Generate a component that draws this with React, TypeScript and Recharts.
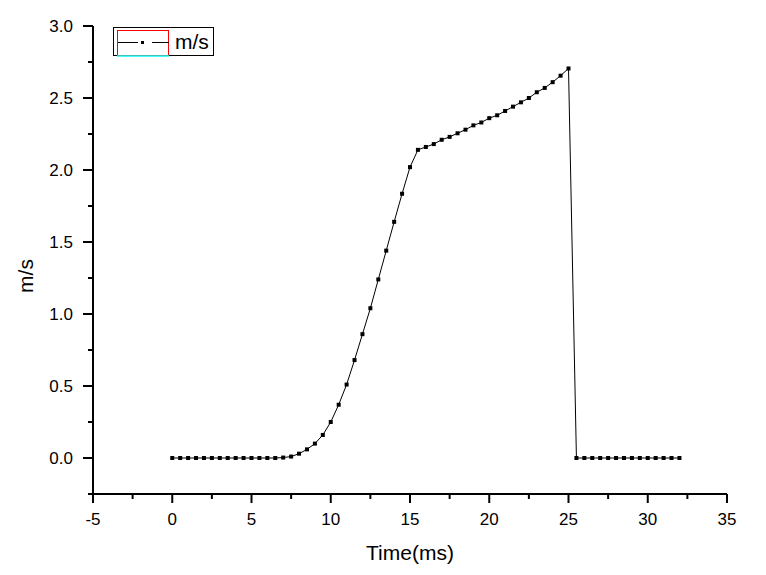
import { Label, Line, LineChart, XAxis, YAxis } from 'recharts';

const times = [
  0, 0.5, 1, 1.5, 2, 2.5, 3, 3.5, 4, 4.5, 5, 5.5, 6, 6.5, 7, 7.5, 8, 8.5, 9, 9.5,
  10, 10.5, 11, 11.5, 12, 12.5, 13, 13.5, 14, 14.5, 15, 15.5, 16, 16.5, 17, 17.5,
  18, 18.5, 19, 19.5, 20, 20.5, 21, 21.5, 22, 22.5, 23, 23.5, 24, 24.5, 25,
  25.5, 26, 26.5, 27, 27.5, 28, 28.5, 29, 29.5, 30, 30.5, 31, 31.5, 32,
];

const speeds = [
  0, 0, 0, 0, 0, 0, 0, 0, 0, 0, 0, 0, 0, 0, 0.003, 0.01, 0.03, 0.06, 0.1, 0.16,
  0.25, 0.37, 0.51, 0.68, 0.86, 1.04, 1.24, 1.44, 1.64, 1.835, 2.02, 2.14, 2.16, 2.18, 2.21, 2.23,
  2.255, 2.28, 2.31, 2.33, 2.36, 2.38, 2.41, 2.44, 2.47, 2.5, 2.54, 2.57, 2.61, 2.655, 2.705,
  0, 0, 0, 0, 0, 0, 0, 0, 0, 0, 0, 0, 0, 0,
];

const xTicks = [-5, -2.5, 0, 2.5, 5, 7.5, 10, 12.5, 15, 17.5, 20, 22.5, 25, 27.5, 30, 32.5, 35];
const yTicks = [-0.25, 0, 0.25, 0.5, 0.75, 1, 1.25, 1.5, 1.75, 2, 2.25, 2.5, 2.75, 3];

const data = times.map((t, i) => ({ t, v: speeds[i] }));

const FONT = '"Liberation Sans", Arial, sans-serif';

const XTick = ({ x, y, payload }: any) => {
  const major = payload.value % 5 === 0;
  return (
    <g>
      <line x1={x} y1={y} x2={x} y2={y + (major ? 9 : 5)} stroke="#000" strokeWidth={2} />
      {major && (
        <text x={x} y={y + 31} textAnchor="middle" fontSize={17} fontFamily={FONT} fill="#000">
          {payload.value}
        </text>
      )}
    </g>
  );
};

const YTick = ({ x, y, payload }: any) => {
  const major = Math.abs(payload.value * 2 - Math.round(payload.value * 2)) < 1e-9;
  return (
    <g>
      <line x1={x} y1={y} x2={x - (major ? 10 : 5)} y2={y} stroke="#000" strokeWidth={2} />
      {major && (
        <text x={x - 20} y={y} dy="0.35em" textAnchor="end" fontSize={17} fontFamily={FONT} fill="#000">
          {payload.value.toFixed(1)}
        </text>
      )}
    </g>
  );
};

// legend drawn by hand, the selection outline (red/cyan) is part of the look
const LegendBox = () => (
  <svg width={102} height={31} style={{ display: 'block' }}>
    <rect x={0.5} y={0.5} width={100} height={28} fill="#fff" stroke="#000" />
    <rect x={4.5} y={3.5} width={51} height={25} fill="none" stroke="#f00" />
    <line x1={4} y1={29} x2={56} y2={29} stroke="#0ff" strokeWidth={1.5} />
    <line x1={5} y1={15.5} x2={25} y2={15.5} stroke="#000" />
    <rect x={28} y={14} width={3} height={3} fill="#000" />
    <line x1={39} y1={15.5} x2={56} y2={15.5} stroke="#000" />
    <text x={62} y={22} fontSize={21} fontFamily={FONT} fill="#000">
      m/s
    </text>
  </svg>
);

const Dot = ({ cx, cy }: any) => <rect x={cx - 2} y={cy - 2} width={4} height={4} fill="#000" />;

export default function App() {
  return (
    <div style={{ position: 'absolute', left: 0, top: 0, background: '#fff' }}>
      <LineChart width={766} height={575} data={data} margin={{ top: 26, right: 39, bottom: 0, left: 0 }}>
        <XAxis
          dataKey="t"
          type="number"
          domain={[-5, 35]}
          ticks={xTicks}
          interval={0}
          height={81}
          tickSize={0}
          tickMargin={0}
          tickLine={false}
          tick={<XTick />}
          axisLine={{ stroke: '#000', strokeWidth: 2 }}
        >
          <Label
            content={() => (
              <text x={410} y={560} textAnchor="middle" fontSize={21} fontFamily={FONT} fill="#000">
                Time(ms)
              </text>
            )}
          />
        </XAxis>
        <YAxis
          type="number"
          domain={[-0.25, 3]}
          ticks={yTicks}
          interval={0}
          width={93}
          tickSize={0}
          tickMargin={0}
          tickLine={false}
          tick={<YTick />}
          axisLine={{ stroke: '#000', strokeWidth: 2 }}
        >
          <Label
            content={() => (
              <text
                x={33}
                y={276}
                textAnchor="middle"
                fontSize={21}
                fontFamily={FONT}
                fill="#000"
                transform="rotate(-90 33 276)"
              >
                m/s
              </text>
            )}
          />
        </YAxis>
        <Line
          type="linear"
          dataKey="v"
          stroke="#000"
          strokeWidth={1}
          dot={<Dot />}
          activeDot={false}
          isAnimationActive={false}
        />
      </LineChart>
      <div style={{ position: 'absolute', left: 113, top: 27 }}>
        <LegendBox />
      </div>
    </div>
  );
}
